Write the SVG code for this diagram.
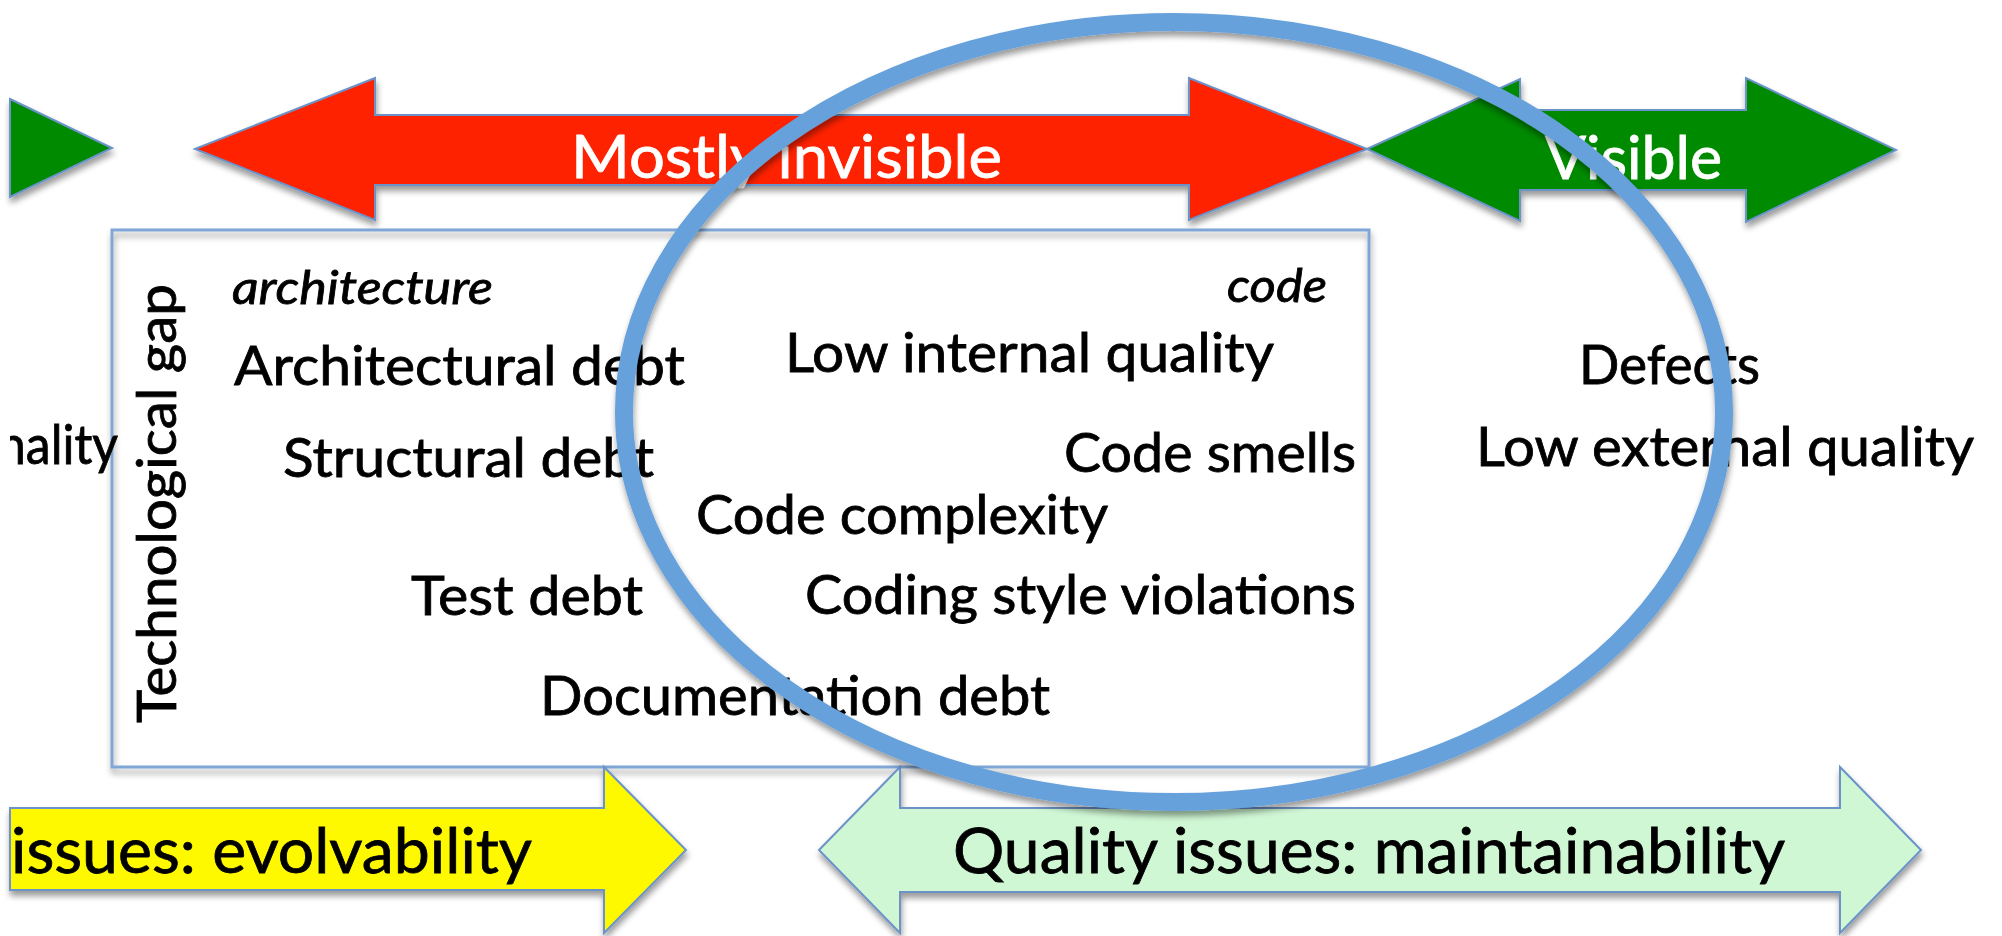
<svg xmlns="http://www.w3.org/2000/svg" width="2002" height="936" viewBox="0 0 2002 936">
  <defs>
    <filter id="shadow" x="-10%" y="-10%" width="120%" height="130%">
      <feGaussianBlur in="SourceAlpha" stdDeviation="3"/>
      <feOffset dx="1" dy="5" result="blur"/>
      <feComponentTransfer><feFuncA type="linear" slope="0.4"/></feComponentTransfer>
      <feMerge><feMergeNode/><feMergeNode in="SourceGraphic"/></feMerge>
    </filter>
    <clipPath id="page"><rect x="10" y="0" width="1992" height="936"/></clipPath>
  </defs>
  <style>
    .arrow { stroke: #6C93C8; stroke-width: 2; stroke-linejoin: miter; filter: url(#shadow); }
    .red { fill: #FF2200; }
    .green { fill: #008A00; }
    .yellow { fill: #FFF900; }
    .mint { fill: #CFF7D4; }
    .t { font-family: Lato, "Liberation Sans", Arial, sans-serif; fill: #000; stroke: #000; stroke-width: 0.8px; }
    .body { font-size: 54px; }
    .tag { font-size: 47px; font-style: italic; }
    .head { font-size: 60px; fill: #FFFFFF; stroke: #FFFFFF; }
    .foot { font-size: 62px; }
  </style>

  <rect x="0" y="0" width="2002" height="936" fill="#FFFFFF"/>

  <!-- top band arrows -->
  <g id="arrow-left-partial">
    <polygon class="arrow green" points="10,99 112,148 10,197"/>
  </g>
  <g id="arrow-invisible">
    <polygon class="arrow red" points="195,149 375,78 375,115 1189,115 1189,78 1367,149 1189,220 1189,185 375,185 375,220"/>
    <text class="t head" x="571" y="178" textLength="431" lengthAdjust="spacingAndGlyphs">Mostly invisible</text>
  </g>
  <g id="arrow-visible">
    <polygon class="arrow green" points="1367,149 1520,79 1520,110 1746,110 1746,78 1896,150 1746,222 1746,190 1520,190 1520,221"/>
    <text class="t head" x="1545" y="179" textLength="177" lengthAdjust="spacingAndGlyphs">Visible</text>
  </g>

  <!-- technological gap box -->
  <g id="gap-box">
    <rect x="112" y="230" width="1257" height="537" fill="none" stroke="#7FA6D6" stroke-width="3" filter="url(#shadow)"/>
    <text class="t body" transform="translate(176,723) rotate(-90)" x="0" y="0" textLength="439" lengthAdjust="spacingAndGlyphs">Technological gap</text>
    <text class="t tag" x="232" y="304" textLength="261" lengthAdjust="spacingAndGlyphs">architecture</text>
    <text class="t tag" x="1227" y="302" textLength="100" lengthAdjust="spacingAndGlyphs">code</text>
    <text class="t body" x="234" y="385" textLength="451" lengthAdjust="spacingAndGlyphs">Architectural debt</text>
    <text class="t body" x="785" y="372" textLength="489" lengthAdjust="spacingAndGlyphs">Low internal quality</text>
    <text class="t body" x="283" y="477" textLength="371" lengthAdjust="spacingAndGlyphs">Structural debt</text>
    <text class="t body" x="1064" y="472" textLength="292" lengthAdjust="spacingAndGlyphs">Code smells</text>
    <text class="t body" x="696" y="534" textLength="412" lengthAdjust="spacingAndGlyphs">Code complexity</text>
    <text class="t body" x="411" y="615" textLength="232" lengthAdjust="spacingAndGlyphs">Test debt</text>
    <text class="t body" x="805" y="614" textLength="551" lengthAdjust="spacingAndGlyphs">Coding style violations</text>
    <text class="t body" x="540" y="715" textLength="510" lengthAdjust="spacingAndGlyphs">Documentation debt</text>
  </g>

  <!-- labels outside the box -->
  <g id="left-label" clip-path="url(#page)">
    <text class="t body" x="-2" y="464" textLength="120" lengthAdjust="spacingAndGlyphs">nality</text>
  </g>
  <g id="external-labels">
    <text class="t body" x="1579" y="384" textLength="181" lengthAdjust="spacingAndGlyphs">Defects</text>
    <text class="t body" x="1476" y="466" textLength="498" lengthAdjust="spacingAndGlyphs">Low external quality</text>
  </g>

  <!-- bottom band arrows -->
  <g id="arrow-evolvability">
    <polygon class="arrow yellow" points="10,808 604,808 604,767 686,850 604,933 604,890 10,890"/>
    <text class="t foot" x="11" y="873" textLength="521" lengthAdjust="spacingAndGlyphs">issues: evolvability</text>
  </g>
  <g id="arrow-maintainability">
    <polygon class="arrow mint" points="819,850 900,767 900,808 1840,808 1840,767 1921,850 1840,933 1840,892 900,892 900,933"/>
    <text class="t foot" x="953" y="873" textLength="832" lengthAdjust="spacingAndGlyphs">Quality issues: maintainability</text>
  </g>

  <!-- highlight ring over the code-level region -->
  <g id="focus-ellipse">
    <ellipse cx="1174" cy="412" rx="550" ry="390" fill="none" stroke="#66A1DC" stroke-width="18" filter="url(#shadow)"/>
  </g>
</svg>
